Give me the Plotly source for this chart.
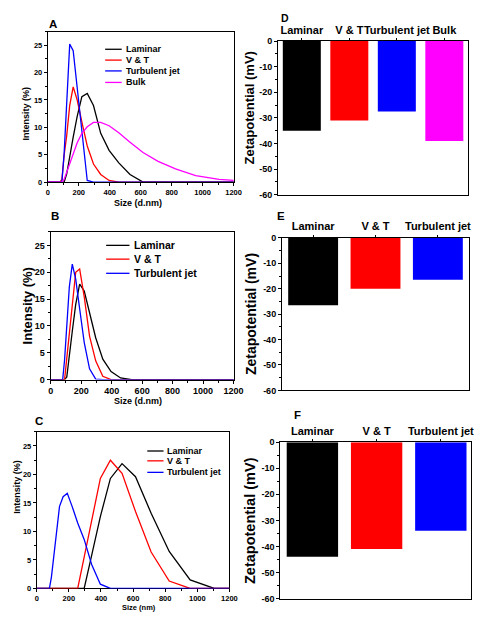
import plotly.graph_objects as go

# ---------------- data ----------------
SIZE_BINS = [0, 68.06, 78.82, 91.28, 105.7, 122.4, 141.8, 164.2, 190.1, 220.2, 255.0,
             295.3, 342.0, 396.1, 458.7, 531.2, 615.1, 712.4, 825.0, 955.4, 1106, 1281]

A_LAMINAR   = [0, 0, 0, 0, 0, 1.5, 4.8, 8.2, 12.0, 15.6, 16.2, 14.0, 8.9, 5.8, 3.5, 1.4, 0, 0, 0, 0, 0, 0]
A_VT        = [0, 0, 0, 0.5, 4.9, 8.5, 14.0, 17.4, 15.0, 11.0, 6.6, 3.3, 1.4, 0.3, 0, 0, 0, 0, 0, 0, 0, 0]
A_TURBULENT = [0, 0, 0, 0, 5.2, 13.6, 25.2, 24.0, 17.5, 9.5, 0.3, 0, 0, 0, 0, 0, 0, 0, 0, 0, 0, 0]
A_BULK      = [0, 0, 0, 0, 0.5, 1.8, 3.5, 5.3, 7.2, 8.9, 10.1, 10.9, 10.9, 10.3, 9.0, 7.3, 5.4, 3.8, 2.4, 1.2, 0.5, 0.15]

B_LAMINAR   = [0, 0, 0, 0, 0.5, 4.0, 9.0, 14.0, 17.8, 16.5, 12.5, 7.8, 3.8, 1.5, 0.3, 0, 0, 0, 0, 0, 0, 0]
B_VT        = [0, 0, 0, 0, 4.0, 8.5, 14.0, 20.0, 20.6, 15.4, 8.1, 3.5, 0.6, 0, 0, 0, 0, 0, 0, 0, 0, 0]
B_TURBULENT = [0, 0, 0, 3.7, 10.0, 17.3, 21.5, 18.7, 13.2, 6.9, 2.0, 0.1, 0, 0, 0, 0, 0, 0, 0, 0, 0, 0]

C_LAMINAR   = [0, 0, 0, 0, 0, 0, 0, 0, 0, 0, 0, 0, 5.8, 12.6, 19.3, 21.9, 19.6, 13.2, 6.5, 1.5, 0, 0]
C_VT        = [0, 0, 0, 0, 0, 0, 0, 0, 0, 0, 0, 5.5, 11.9, 19.3, 22.5, 20.2, 13.5, 6.4, 1.3, 0, 0, 0]
C_TURBULENT = [0, 0, 0, 2.0, 5.7, 9.9, 14.4, 16.1, 16.7, 14.4, 11.5, 8.6, 4.2, 0.75, 0, 0, 0, 0, 0, 0, 0, 0]

SERIES_NAMES = ["Laminar", "V & T", "Turbulent jet", "Bulk"]
SERIES_COLORS = ["#000000", "#ff0000", "#0000ff", "#ff00ff"]

D_CATEGORIES = ["Laminar", "V & T", "Turbulent jet", "Bulk"]
D_ZETA = [-35.0, -31.0, -27.5, -39.0]
E_CATEGORIES = ["Laminar", "V & T", "Turbulent jet"]
E_ZETA = [-26.5, -20.0, -16.5]
F_CATEGORIES = ["Laminar", "V & T", "Turbulent jet"]
F_ZETA = [-44.0, -41.0, -34.0]

INTENSITY_TICKS = [0, 5, 10, 15, 20, 25]
SIZE_TICKS = [0, 200, 400, 600, 800, 1000, 1200]
ZETA_TICKS = [0, -10, -20, -30, -40, -50, -60]
ZETA_TICK_TEXT = ["0", "-10", "-20", "-30", "-40", "-50", "-60"]

# ---------------- layout helpers ----------------
W, H = 481, 621
FONT = "Liberation Sans, Arial, sans-serif"


def X(px):
    return px / W


def Y(py):
    return 1 - py / H


fig = go.Figure()

line_panels = [
    ("x", "y", [A_LAMINAR, A_VT, A_TURBULENT, A_BULK]),
    ("x3", "y3", [B_LAMINAR, B_VT, B_TURBULENT]),
    ("x5", "y5", [C_LAMINAR, C_VT, C_TURBULENT]),
]
for xa, ya, series in line_panels:
    for i, vals in enumerate(series):
        fig.add_trace(go.Scatter(
            x=SIZE_BINS, y=vals, mode="lines", name=SERIES_NAMES[i],
            line=dict(color=SERIES_COLORS[i], width=1.3),
            xaxis=xa, yaxis=ya, showlegend=False))

bar_panels = [
    ("x2", "y2", D_CATEGORIES, D_ZETA),
    ("x4", "y4", E_CATEGORIES, E_ZETA),
    ("x6", "y6", F_CATEGORIES, F_ZETA),
]
for xa, ya, cats, vals in bar_panels:
    fig.add_trace(go.Bar(
        x=cats, y=vals, marker=dict(color=SERIES_COLORS[:len(cats)], line=dict(width=0)),
        width=0.8, xaxis=xa, yaxis=ya, showlegend=False))


def size_axis(dom, fs):
    return dict(domain=dom, range=[0, 1200], tickmode="array", tickvals=SIZE_TICKS,
                ticks="outside", ticklen=3, tickwidth=1, tickcolor="black",
                minor=dict(ticks="outside", ticklen=2, dtick=100, tick0=0, tickcolor="black"),
                showline=True, mirror=True, linecolor="black", linewidth=1,
                showgrid=False, zeroline=False, layer="below traces",
                tickfont=dict(family=FONT, size=fs, color="black", weight="bold"))


def intensity_axis(dom, fs, anchor):
    return dict(domain=dom, range=[0, 27.5], tickmode="array", tickvals=INTENSITY_TICKS,
                ticks="outside", ticklen=3, tickwidth=1, tickcolor="black",
                minor=dict(ticks="outside", ticklen=2, dtick=2.5, tick0=0, tickcolor="black"),
                showline=True, mirror=True, linecolor="black", linewidth=1,
                showgrid=False, zeroline=False, layer="below traces", anchor=anchor,
                tickfont=dict(family=FONT, size=fs, color="black", weight="bold"))


def cat_axis(dom, n, anchor, rng_hi=None):
    return dict(domain=dom, type="category", side="top", anchor=anchor,
                range=[-0.5, (n - 0.5) if rng_hi is None else rng_hi],
                ticks="outside", ticklen=2, tickwidth=1, tickcolor="black", tickangle=0,
                showline=True, mirror=True, linecolor="black", linewidth=1,
                showgrid=False, zeroline=False,
                tickfont=dict(family=FONT, size=11, color="black", weight="bold"))


def zeta_axis(dom, anchor):
    return dict(domain=dom, range=[-60, 0], tickmode="array", tickvals=ZETA_TICKS,
                ticktext=ZETA_TICK_TEXT, anchor=anchor,
                ticks="outside", ticklen=3, tickwidth=1, tickcolor="black",
                minor=dict(ticks="outside", ticklen=2, dtick=5, tick0=0, tickcolor="black"),
                showline=True, mirror=True, linecolor="black", linewidth=1,
                showgrid=False, zeroline=False,
                tickfont=dict(family=FONT, size=9, color="black", weight="bold"))


A_dom = ([X(46), X(237)], [Y(180), Y(27)])
B_dom = ([X(49), X(237)], [Y(380.7), Y(230.7)])
C_dom = ([X(34.7), X(232.7)], [Y(593), Y(433.7)])
D_dom = ([X(282.7), X(478)], [Y(192.7), Y(36.7)])
E_dom = ([X(286.7), X(479)], [Y(391.7), Y(236.7)])
F_dom = ([X(285), 1.0], [Y(603.3), Y(444.3)])

fig.update_layout(
    width=W, height=H, autosize=False,
    margin=dict(l=0, r=0, t=0, b=0, pad=0),
    paper_bgcolor="white", plot_bgcolor="white",
    font=dict(family=FONT, color="black"),
    showlegend=False,
    xaxis=dict(size_axis(A_dom[0], 7.5), anchor="y"),
    yaxis=intensity_axis(A_dom[1], 7.5, "x"),
    xaxis3=dict(size_axis(B_dom[0], 9), anchor="y3"),
    yaxis3=intensity_axis(B_dom[1], 9, "x3"),
    xaxis5=dict(size_axis(C_dom[0], 7.5), anchor="y5"),
    yaxis5=intensity_axis(C_dom[1], 7.5, "x5"),
    xaxis2=cat_axis(D_dom[0], 4, "y2"),
    yaxis2=zeta_axis(D_dom[1], "x2"),
    xaxis4=cat_axis(E_dom[0], 3, "y4"),
    yaxis4=zeta_axis(E_dom[1], "x4"),
    xaxis6=cat_axis(F_dom[0], 3, "y6", rng_hi=2.47),
    yaxis6=zeta_axis(F_dom[1], "x6"),
    bargap=0.2,
)

ann = []


def text(t, px, py, size, angle=0, anchor="center"):
    ann.append(dict(text=t, x=X(px), y=Y(py), xref="paper", yref="paper",
                    xanchor=anchor, yanchor="middle", showarrow=False, textangle=angle,
                    font=dict(family=FONT, size=size, color="black", weight="bold")))


# panel letters
text("A", 51, 19, 11.5)
text("B", 53.5, 214, 11.5)
text("C", 37.5, 422.5, 11.5)
text("D", 290, 13.5, 10.5)
text("E", 285.5, 214, 11.5)
text("F", 302.5, 417, 11.5)

# axis titles
text("Intensity (%)", 24, 110, 9, angle=-90)
text("Intensity (%)", 25, 306, 13, angle=-90)
text("Intensity (%)", 14, 490, 9, angle=-90)
text("Size (d.nm)", 139, 201, 9)
text("Size (d.nm)", 139, 402, 9)
text("Size (nm)", 140, 612, 7.5)
text("Zetapotential (mV)", 253, 105, 13, angle=-90)
text("Zetapotential (mV)", 255, 314, 14, angle=-90)
text("Zetapotential (mV)", 253.3, 524, 14.5, angle=-90)

# manual legends
shapes = []
legends = [
    (105, 122, 124, [45, 56, 67, 78.7], 9, 4),
    (106, 130, 132.7, [244.3, 258.3, 272.7], 10.5, 3),
    (148.3, 165, 166, [453.3, 463.3, 475], 9, 3),
]
for x0, x1, tx, rows, fs, n in legends:
    for i in range(n):
        shapes.append(dict(type="line", xref="paper", yref="paper",
                           x0=X(x0), x1=X(x1), y0=Y(rows[i]), y1=Y(rows[i]),
                           line=dict(color=SERIES_COLORS[i], width=1.3)))
        text(SERIES_NAMES[i], tx, rows[i], fs, anchor="left")

fig.update_layout(annotations=ann, shapes=shapes)

fig.write_html("out.html")
